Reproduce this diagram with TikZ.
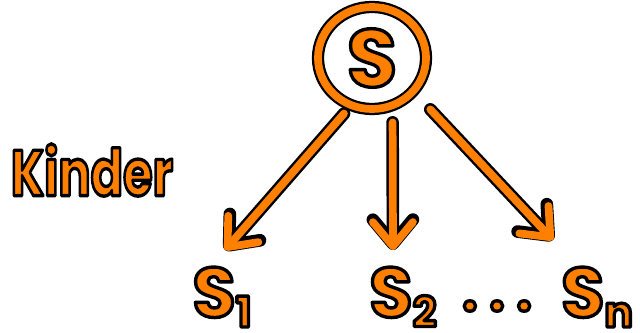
\documentclass[tikz,border=0pt]{standalone}
\usepackage{fontspec}
\setmainfont{Poppins}
\usetikzlibrary{arrows.meta, positioning, calc, shapes.geometric}
\definecolor{hand}{RGB}{255,127,0}
% orange letters with a thin black rim (fill + stroke render mode)
\newcommand{\ink}[1]{\special{pdf:literal direct 0 0 0 RG 2 Tr 2.4 w 1 j}#1\special{pdf:literal direct 0 Tr}}

\begin{document}
\begin{tikzpicture}[x=0.025cm, y=-0.025cm,
    txt/.style={text=hand, inner sep=0pt, font=\bfseries},
    tip/.style={-{Straight Barb[length=0.6cm, width=1cm, round]}}]
    \useasboundingbox (0,0) rectangle (640,333);

    % root
    \node[ellipse, draw=black, double=hand, double distance=5.5pt, line width=1.6pt,
          minimum width=2.7cm, minimum height=2.55cm, txt] (s) at (372,58)
          {\ink{\fontsize{58}{58}\selectfont S}};

    % label
    \node[txt] (kinder) at (92,170) {\scalebox{0.74}[1]{\ink{\fontsize{46}{46}\selectfont Kinder}}};

    % children
    \node[txt] (s1) at (222,297) {\ink{\fontsize{50}{50}\selectfont S\raisebox{-7pt}{\fontsize{30}{30}\selectfont 1}}};
    \node[txt] (s2) at (403,297) {\ink{\fontsize{50}{50}\selectfont S\raisebox{-7pt}{\fontsize{30}{30}\selectfont 2}}};
    \node[txt] (dots) at (497,306) {\ink{\fontsize{40}{40}\selectfont .\hspace{8pt}.\hspace{8pt}.}};
    \node[txt] (sn) at (597,297) {\ink{\fontsize{50}{50}\selectfont S\raisebox{-7pt}{\fontsize{30}{30}\selectfont n}}};

    % arrow tips
    \coordinate (t1) at (225,250);
    \coordinate (t2) at (393,250);
    \coordinate (tn) at (553,240);

    % arrows
    \foreach \lw/\col in {9pt/black, 5.5pt/hand} {
        \draw[line width=\lw, draw=\col, line cap=round, tip, shorten <=0.25cm] (s.246) -- (t1);
        \draw[line width=\lw, draw=\col, line cap=round, tip, shorten <=0.4cm] (s.293) -- (t2);
        \draw[line width=\lw, draw=\col, line cap=round, tip, shorten <=0.6cm] (s.321) -- (tn);
    }
\end{tikzpicture}
\end{document}
